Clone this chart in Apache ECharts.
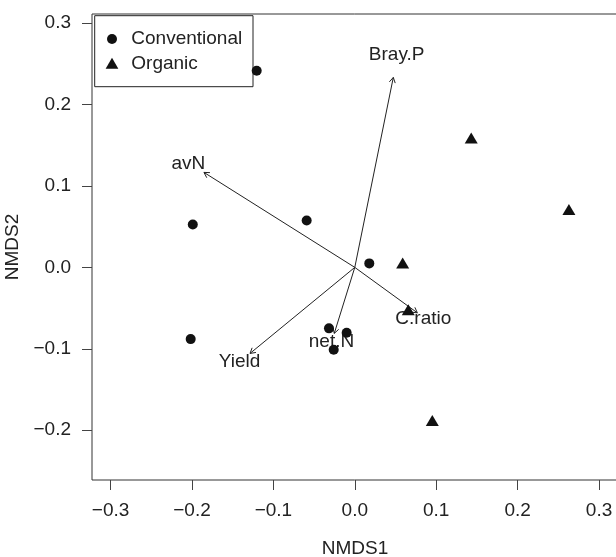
<!DOCTYPE html>
<html>
<head>
<meta charset="utf-8">
<script src="https://cdn.jsdelivr.net/npm/echarts@6/dist/echarts.min.js"></script>
<style>html,body{margin:0;padding:0;background:#fff;}#c{width:616px;height:557px;}</style>
</head>
<body>
<div id="c"></div>
<script>
// ---- data ----
var conventional = [
  [-0.1205, 0.2415], [-0.1990, 0.0528], [-0.0591, 0.0577], [0.0178, 0.0049],
  [-0.2016, -0.0881], [-0.0317, -0.0749], [-0.0100, -0.0803], [-0.0259, -0.1012]
];
var organic = [
  [0.1430, 0.1590], [0.2630, 0.0710], [0.0588, 0.0055], [0.0657, -0.0520], [0.0952, -0.1880]
];
var vectorNames = ['Bray.P', 'avN', 'Yield', 'net.N', 'C.ratio'];
var vectorTips = [[0.0473, 0.2334], [-0.1853, 0.1167], [-0.1287, -0.1057], [-0.0252, -0.0811], [0.0768, -0.0558]];
var vectorLabelPos = [[0.0514, 0.2608], [-0.2045, 0.1267], [-0.1416, -0.1160], [-0.0286, -0.0914], [0.0842, -0.0635]];
var xTicks = [-0.3, -0.2, -0.1, 0.0, 0.1, 0.2, 0.3];
var yTicks = [-0.2, -0.1, 0.0, 0.1, 0.2, 0.3];
var legendNames = ['Conventional', 'Organic'];

var FONT = 'Liberation Sans, Arial, Helvetica, sans-serif';
var FS = 19;
var TXT = '#222';
function fmt(v) {
  var s = Math.abs(v).toFixed(1);
  return (v < -1e-9 ? '\u2212' : '') + s;
}
var chart = echarts.init(document.getElementById('c'), null, {renderer: 'canvas'});
var axisCommon = {
  type: 'value',
  splitLine: {show: false},
  axisLine: {show: false, onZero: false},
  axisTick: {show: true, inside: false, length: 10, lineStyle: {color: '#444', width: 1}},
  axisLabel: {color: TXT, fontSize: FS, fontFamily: FONT, margin: 21, formatter: fmt},
  nameLocation: 'middle',
  nameGap: 59,
  nameTextStyle: {color: TXT, fontSize: FS, fontFamily: FONT}
};
var option = {
  animation: false,
  backgroundColor: '#fff',
  grid: {left: 92, top: 14, width: 526, height: 466, show: true, borderColor: '#333', borderWidth: 1,
         backgroundColor: 'transparent', containLabel: false, outerBoundsMode: 'none'},
  xAxis: Object.assign({}, axisCommon, {
    min: -0.3228, max: 0.3233, name: 'NMDS1',
    axisTick: Object.assign({}, axisCommon.axisTick, {customValues: xTicks}),
    axisLabel: Object.assign({}, axisCommon.axisLabel, {customValues: xTicks})
  }),
  yAxis: Object.assign({}, axisCommon, {
    min: -0.2612, max: 0.3113, name: 'NMDS2', nameGap: 55,
    axisTick: Object.assign({}, axisCommon.axisTick, {customValues: yTicks}),
    axisLabel: Object.assign({}, axisCommon.axisLabel, {customValues: yTicks})
  }),
  graphic: [
    {type: 'rect', z: 1, shape: {x: 94.7, y: 15.7, width: 158.3, height: 71}, style: {fill: '#fff', stroke: '#222', lineWidth: 1}},
    {type: 'circle', z: 1, shape: {cx: 112, cy: 39, r: 5}, style: {fill: '#111'}},
    {type: 'polygon', z: 1, shape: {points: [[112, 57.8], [118.35, 68.8], [105.65, 68.8]]}, style: {fill: '#111'}},
    {type: 'text', z: 1, x: 131.3, y: 39, style: {text: legendNames[0], fill: TXT, font: FS + 'px ' + FONT, verticalAlign: 'middle', align: 'left'}},
    {type: 'text', z: 1, x: 131.3, y: 63.3, style: {text: legendNames[1], fill: TXT, font: FS + 'px ' + FONT, verticalAlign: 'middle', align: 'left'}}
  ],
  series: [
    {
      type: 'custom',
      data: vectorTips,
      z: 2,
      renderItem: function (params, api) {
        var o = api.coord([0, 0]);
        var t = api.coord([api.value(0), api.value(1)]);
        var ang = Math.atan2(t[1] - o[1], t[0] - o[0]);
        var L = 6, a = Math.PI / 6;
        var p1 = [t[0] - L * Math.cos(ang - a), t[1] - L * Math.sin(ang - a)];
        var p2 = [t[0] - L * Math.cos(ang + a), t[1] - L * Math.sin(ang + a)];
        return {type: 'group', children: [
          {type: 'line', shape: {x1: o[0], y1: o[1], x2: t[0], y2: t[1]}, style: {stroke: '#222', lineWidth: 1}},
          {type: 'polyline', shape: {points: [p1, t, p2]}, style: {stroke: '#222', fill: null, lineWidth: 1}}
        ]};
      }
    },
    {
      type: 'scatter',
      z: 3,
      symbolSize: 1,
      itemStyle: {color: 'rgba(0,0,0,0)', opacity: 1},
      data: vectorLabelPos.map(function (p, i) { return {value: p, name: vectorNames[i]}; }),
      label: {show: true, position: 'inside', formatter: '{b}', color: TXT, fontSize: FS, fontFamily: FONT},
      silent: true
    },
    {
      type: 'scatter', name: legendNames[0], z: 4,
      symbol: 'circle', symbolSize: 10,
      itemStyle: {color: '#111', opacity: 1},
      data: conventional
    },
    {
      type: 'scatter', name: legendNames[1], z: 4,
      symbol: 'triangle', symbolSize: [13, 11],
      itemStyle: {color: '#111', opacity: 1},
      data: organic
    }
  ]
};
chart.setOption(option);
</script>
</body>
</html>
